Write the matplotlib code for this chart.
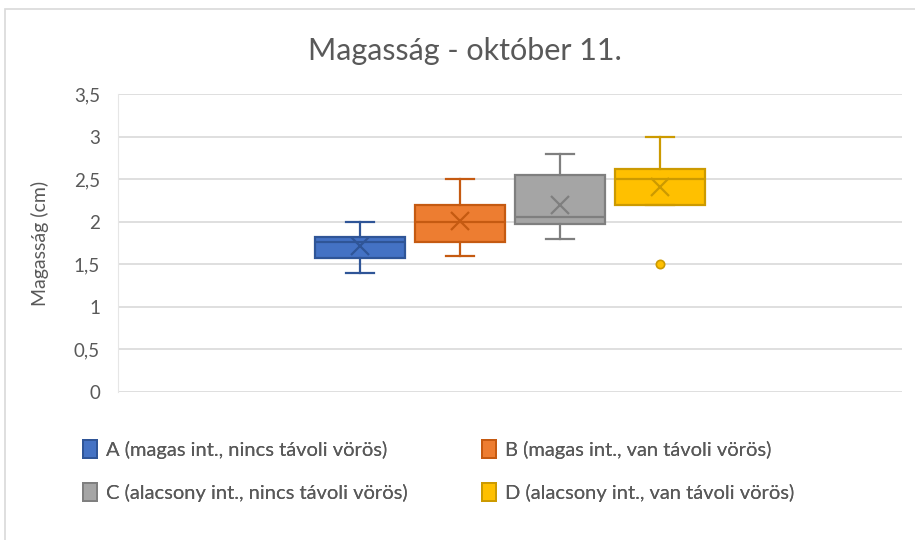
import numpy as np
import matplotlib.pyplot as plt
from matplotlib.patches import Patch, Rectangle
from matplotlib.ticker import FuncFormatter

plt.rcParams['font.family'] = ['Lato', 'DejaVu Sans']

labels = ['A (magas int., nincs távoli vörös)', 'B (magas int., van távoli vörös)',
          'C (alacsony int., nincs távoli vörös)', 'D (alacsony int., van távoli vörös)']
whislo = [1.4, 1.6, 1.8, 2.2]
q1 = [1.57, 1.76, 1.97, 2.2]
med = [1.76, 2.0, 2.06, 2.5]
q3 = [1.82, 2.2, 2.55, 2.62]
whishi = [2.0, 2.5, 2.8, 3.0]
means = [1.71, 2.01, 2.2, 2.41]
fliers = [[], [], [], [1.5]]

faces = ['#4472C4', '#ED7D31', '#A5A5A5', '#FFC000']
edges = ['#2F5597', '#C55A11', '#7F7F7F', '#CC9A00']

fig = plt.figure(figsize=(9.15, 5.4), dpi=100)
fig.patches.append(Rectangle((0.006, -0.01), 1.2, 0.994, transform=fig.transFigure,
                             facecolor='none', edgecolor='#D9D9D9', lw=1.2))
ax = fig.add_axes([0.129, 0.274, 0.857, 0.552])

positions = [-1.5, -0.5, 0.5, 1.5]
for i in range(4):
    stats = [dict(whislo=whislo[i], q1=q1[i], med=med[i], q3=q3[i], whishi=whishi[i],
                  mean=means[i], fliers=fliers[i])]
    ec = edges[i]
    ax.bxp(stats, positions=[positions[i]], widths=0.9, capwidths=0.28,
           showmeans=True, patch_artist=True, showfliers=True,
           boxprops=dict(facecolor=faces[i], edgecolor=ec, lw=1.6),
           medianprops=dict(color=ec, lw=1.6),
           whiskerprops=dict(color=ec, lw=1.6),
           capprops=dict(color=ec, lw=1.6),
           meanprops=dict(marker='x', markeredgecolor=ec, markersize=13, markeredgewidth=1.6),
           flierprops=dict(marker='o', markerfacecolor=faces[i], markeredgecolor=ec,
                           markersize=6, markeredgewidth=1.2),
           zorder=3)

ax.set_xlim(-3.92, 3.92)
ax.set_ylim(0, 3.5)
ax.set_yticks(np.arange(0, 3.51, 0.5))
ax.yaxis.set_major_formatter(FuncFormatter(lambda v, p: ('%g' % v).replace('.', ',')))
ax.set_xticks([])
ax.grid(axis='y', color='#D9D9D9', lw=1.2, zorder=0)
ax.set_axisbelow(True)
for s in ax.spines.values():
    s.set_visible(False)
ax.spines['left'].set_visible(True)
ax.spines['left'].set_color('#E6E6E6')
ax.tick_params(axis='y', length=0, labelsize=13.5, labelcolor='#595959', pad=13)
ax.set_ylabel('Magasság (cm)', fontsize=14, color='#595959', labelpad=18)

fig.text(0.508, 0.905, 'Magasság - október 11.', ha='center', va='center',
         fontsize=22, color='#595959')

# two one-column legends so the columns sit where the reference puts them
handles = [Patch(facecolor=faces[i], edgecolor=edges[i], lw=1.4) for i in range(4)]
for idx, x0 in [([0, 2], 0.082), ([1, 3], 0.518)]:
    leg = fig.legend([handles[j] for j in idx], [labels[j] for j in idx],
                     loc='upper left', bbox_to_anchor=(x0, 0.2),
                     frameon=False, fontsize=14.5, labelcolor='#595959', handlelength=0.7,
                     handleheight=1.0, handletextpad=0.45, labelspacing=1.2,
                     borderaxespad=0)
    fig.add_artist(leg)

plt.savefig('out.png', dpi=100)
